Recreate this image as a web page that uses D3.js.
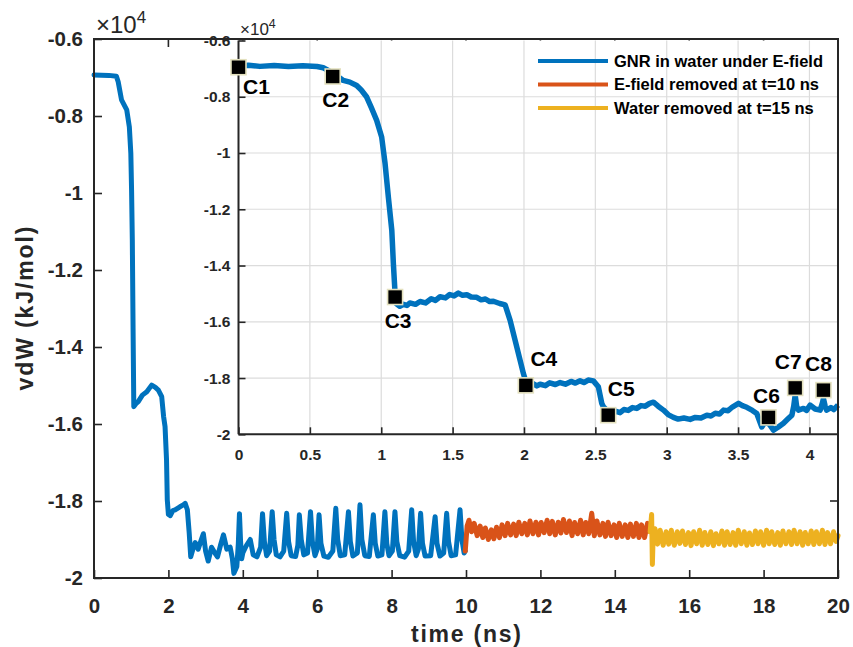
<!DOCTYPE html>
<html><head><meta charset="utf-8">
<script src="https://cdn.jsdelivr.net/npm/d3@7"></script>
<style>
html,body{margin:0;padding:0;background:#fff;}
svg text{font-family:"Liberation Sans",Arial,Helvetica,sans-serif;}
</style></head>
<body>
<svg id="chart" width="853" height="647"></svg>
<script>
// ---------------- DATA (time in ns, vdW in kJ/mol) ----------------
const mainXTicks = [0,2,4,6,8,10,12,14,16,18,20];
const mainYTicks = [-6000,-8000,-10000,-12000,-14000,-16000,-18000,-20000];
const insetXTicks = [0,0.5,1,1.5,2,2.5,3,3.5,4];
const insetYTicks = [-6000,-8000,-10000,-12000,-14000,-16000,-18000,-20000];

const seriesNames = ["GNR in water under E-field","E-field removed at t=10 ns","Water removed at t=15 ns"];

const blueMain = [
[0,-6935],[0.2,-6940],[0.4,-6945],[0.6,-6965],[0.65,-7110],[0.74,-7580],[0.88,-7840],[0.95,-8280],
[0.99,-8970],[1.01,-9920],[1.03,-11220],[1.05,-13500],[1.07,-15550],[1.12,-15480],[1.19,-15420],
[1.3,-15250],[1.42,-15160],[1.55,-14990],[1.65,-15050],[1.73,-15120],[1.82,-15290],[1.87,-15800],
[1.91,-16070],[1.95,-16940],[1.97,-17970],[2.0,-18350],[2.05,-18380],[2.12,-18250],[2.18,-18230],
[2.31,-18150],[2.4,-18100],[2.45,-18060],[2.51,-18230],[2.56,-18840],[2.6,-19450],[2.66,-19250],
[2.72,-19080],[2.8,-19250],[2.87,-19050],[2.94,-18850],[3.0,-19300],[3.07,-19560],[3.16,-19200],
[3.25,-19350],[3.32,-19450],[3.4,-19150],[3.48,-18880],[3.57,-19250],[3.66,-19200],[3.72,-19500],
[3.76,-19880],[3.84,-19700],[3.88,-19100],[3.91,-18330],[3.94,-19050],[3.97,-19500],
[4.0,-19350],[4.1,-19150],[4.2,-19000],[4.28,-19400],[4.38,-19450],[4.48,-19200],[4.53,-18330],
[4.58,-19050],[4.64,-19420],[4.72,-19300],[4.79,-18280],[4.84,-19000],[4.9,-19400],[5.0,-19450],
[5.1,-19300],[5.18,-18320],[5.23,-19050],[5.3,-19420],[5.42,-19440],[5.48,-19150],[5.52,-18360],
[5.57,-19000],[5.64,-19400],[5.74,-19350],[5.82,-18280],[5.87,-19050],[5.94,-19420],[6.0,-19250],
[6.05,-18360],[6.1,-19100],[6.18,-19430],[6.3,-19460],[6.42,-19300],[6.5,-18190],[6.55,-19000],
[6.62,-19420],[6.74,-19400],[6.84,-18280],[6.89,-19050],[6.96,-19430],[7.08,-19350],[7.15,-18100],
[7.2,-19000],[7.28,-19420],[7.4,-19440],[7.51,-18360],[7.56,-19100],[7.63,-19430],[7.74,-19400],
[7.82,-18280],[7.87,-19100],[7.93,-19420],[8.02,-19300],[8.09,-18280],[8.14,-19050],[8.22,-19420],
[8.35,-19460],[8.46,-19300],[8.54,-18230],[8.59,-19050],[8.66,-19420],[8.72,-19250],[8.78,-18320],
[8.83,-19100],[8.9,-19430],[9.05,-19420],[9.17,-18410],[9.22,-19100],[9.3,-19430],[9.4,-19350],
[9.48,-18320],[9.53,-19050],[9.6,-19420],[9.72,-19400],[9.84,-18230],[9.89,-19000],[9.95,-19350],
[9.98,-19300]
];

const orangeMain = [
[9.98,-19300],[10.03,-18650],[10.08,-18500],[10.15,-18800],[10.22,-18580],[10.3,-18900],[10.38,-18650],
[10.45,-18950],[10.52,-18700],[10.6,-19000],[10.68,-18750],[10.75,-18980],[10.82,-18680],[10.9,-18950],
[10.97,-18620],[11.05,-18900],[11.12,-18580],[11.2,-18880],[11.28,-18600],[11.35,-18900],[11.42,-18550],
[11.5,-18850],[11.58,-18580],[11.65,-18880],[11.72,-18520],[11.8,-18850],[11.88,-18550],[11.95,-18880],
[12.02,-18560],[12.1,-18820],[12.18,-18500],[12.25,-18850],[12.32,-18530],[12.4,-18880],[12.48,-18550],
[12.55,-18830],[12.62,-18480],[12.7,-18820],[12.78,-18520],[12.85,-18900],[12.92,-18560],[13.0,-18850],
[13.08,-18500],[13.15,-18880],[13.22,-18560],[13.3,-18850],[13.38,-18320],[13.45,-18900],[13.52,-18520],
[13.6,-18880],[13.68,-18580],[13.75,-18920],[13.82,-18550],[13.9,-18900],[13.98,-18620],[14.05,-18950],
[14.12,-18580],[14.2,-18920],[14.28,-18620],[14.35,-18950],[14.42,-18600],[14.5,-18920],[14.58,-18580],
[14.65,-18950],[14.72,-18620],[14.8,-18950],[14.88,-18580],[14.95,-18800]
];

const yellowMain = [
[14.95,-18800],[14.99,-18350],[15.01,-19650],[15.03,-18950],[15.08,-18720],[15.15,-19120],[15.22,-18760],
[15.3,-19150],[15.38,-18800],[15.45,-19120],[15.52,-18760],[15.6,-19150],[15.68,-18800],[15.75,-19100],
[15.82,-18780],[15.9,-19130],[15.98,-18820],[16.05,-19160],[16.12,-18800],[16.2,-19110],[16.28,-18760],
[16.35,-19150],[16.42,-18820],[16.5,-19130],[16.58,-18800],[16.65,-19160],[16.72,-18850],[16.8,-19110],
[16.88,-18780],[16.95,-19150],[17.02,-18800],[17.1,-19130],[17.18,-18820],[17.25,-19150],[17.32,-18760],
[17.4,-19110],[17.48,-18800],[17.55,-19150],[17.62,-18830],[17.7,-19130],[17.78,-18780],[17.85,-19110],
[17.92,-18800],[18.0,-19150],[18.08,-18760],[18.15,-19110],[18.22,-18800],[18.3,-19130],[18.38,-18820],
[18.45,-19150],[18.52,-18780],[18.6,-19110],[18.68,-18800],[18.75,-19130],[18.82,-18760],[18.9,-19110],
[18.98,-18800],[19.05,-19150],[19.12,-18820],[19.2,-19110],[19.28,-18780],[19.35,-19130],[19.42,-18800],
[19.5,-19110],[19.58,-18760],[19.65,-19130],[19.72,-18820],[19.8,-19110],[19.88,-18800],[19.95,-19050],
[20.0,-18900]
];

const blueInset = [
[0,-6900],[0.07,-6880],[0.15,-6920],[0.25,-6890],[0.35,-6925],[0.45,-6895],[0.55,-6925],[0.594,-6970],
[0.66,-7150],[0.734,-7420],[0.78,-7480],[0.828,-7600],[0.86,-7760],[0.898,-8010],[0.93,-8380],[0.968,-8840],
[1.003,-9430],[1.027,-10380],[1.05,-11570],[1.074,-12750],[1.085,-13930],[1.097,-15000],
[1.105,-15350],[1.13,-15450],[1.155,-15380],[1.18,-15420],[1.2,-15330],[1.24,-15380],[1.272,-15280],
[1.31,-15330],[1.35,-15180],[1.38,-15240],[1.412,-15110],[1.45,-15150],[1.48,-15030],[1.51,-15080],
[1.54,-14980],[1.57,-15060],[1.6,-15040],[1.63,-15120],[1.669,-15130],[1.7,-15220],[1.73,-15190],
[1.76,-15280],[1.786,-15270],[1.83,-15350],[1.868,-15400],[1.903,-15950],[1.938,-16660],[1.973,-17370],
[1.996,-17840],[2.02,-18250],[2.06,-18190],[2.09,-18280],[2.113,-18220],[2.15,-18270],[2.18,-18170],
[2.22,-18230],[2.253,-18160],[2.29,-18220],[2.33,-18120],[2.36,-18180],[2.393,-18100],[2.42,-18160],
[2.45,-18070],[2.486,-18100],[2.521,-18310],[2.545,-18900],[2.556,-19020],[2.6,-19250],[2.64,-19180],
[2.673,-19230],[2.7,-19120],[2.73,-19150],[2.76,-19050],[2.79,-19080],[2.82,-18980],[2.85,-19000],
[2.88,-18900],[2.907,-18860],[2.94,-19000],[2.977,-19140],[3.01,-19300],[3.047,-19400],[3.08,-19460],
[3.12,-19420],[3.164,-19470],[3.2,-19400],[3.24,-19420],[3.281,-19320],[3.31,-19350],[3.34,-19250],
[3.37,-19280],[3.398,-19140],[3.43,-19160],[3.46,-19030],[3.503,-18900],[3.53,-18980],[3.561,-19040],
[3.6,-19150],[3.631,-19260],[3.666,-19740],[3.69,-19550],[3.72,-19650],[3.748,-19850],[3.78,-19750],
[3.818,-19610],[3.85,-19450],[3.877,-19320],[3.89,-19000],[3.9,-18610],[3.91,-19000],[3.923,-19140],
[3.958,-19080],[3.98,-19150],[4.005,-18960],[4.04,-19100],[4.075,-19140],[4.09,-18900],[4.098,-18730],
[4.11,-19000],[4.12,-19140],[4.15,-19050],[4.17,-19120],[4.2,-18960]
];

const markerNames = ["C1","C2","C3","C4","C5","C6","C7","C8"];
const markerTimes = [0, 0.66, 1.097, 2.013, 2.59, 3.713, 3.90, 4.098];
const markerValues = [-6950, -7280, -15120, -18260, -19320, -19400, -18350, -18430];

// ---------------- LAYOUT / STYLE ----------------
const colors = ["#0072BD","#D95319","#EDB120"];
const axisColor = "#262626";
const labelOffsets = [[18,19],[3,23],[3,23],[18,-27],[13,-27],[-2,-22],[-7,-26],[-5,-27]];

const svg = d3.select("#chart");
const M = {l:94, r:838, t:39, b:578};
const I = {l:238.5, r:838, t:40.5, b:434.3};

const x = d3.scaleLinear().domain([0,20]).range([M.l, M.r]);
const y = d3.scaleLinear().domain([-20000,-6000]).range([M.b, M.t]);
const xi = d3.scaleLinear().domain([0,4.2]).range([I.l, I.r]);
const yi = d3.scaleLinear().domain([-20000,-6000]).range([I.b, I.t]);

const fmtY = d => String(+(d/1e4).toFixed(2));
const fmtX = d => String(d);

// ---- main curves ----
const lineMain = d3.line().x(d=>x(d[0])).y(d=>y(d[1]));
const gMain = svg.append("g");
[blueMain, orangeMain, yellowMain].forEach((s,i)=>{
  gMain.append("path").attr("d", lineMain(s)).attr("fill","none")
    .attr("stroke", colors[i]).attr("stroke-width", 5)
    .attr("stroke-linejoin","round").attr("stroke-linecap","round");
});

// ---- main axes ----
function styleAxis(g, fs){
  g.selectAll(".domain").remove();
  g.selectAll(".tick line").attr("stroke", axisColor).attr("stroke-width", 1.6);
  g.selectAll(".tick text").attr("fill", axisColor).attr("font-weight","bold").attr("font-size", fs);
}
const gx = svg.append("g").attr("transform",`translate(0,${M.b})`)
  .call(d3.axisBottom(x).tickValues(mainXTicks).tickFormat(fmtX).tickSizeInner(-8).tickSizeOuter(0).tickPadding(20));
styleAxis(gx, 20.5);
const gy = svg.append("g").attr("transform",`translate(${M.l},0)`)
  .call(d3.axisLeft(y).tickValues(mainYTicks).tickFormat(fmtY).tickSizeInner(-8).tickSizeOuter(0).tickPadding(11));
styleAxis(gy, 20.5);
svg.append("g").selectAll("line").data(mainYTicks).join("line")
  .attr("x1", M.r).attr("x2", M.r-8).attr("y1", d=>y(d)).attr("y2", d=>y(d))
  .attr("stroke", axisColor).attr("stroke-width",1.6);
svg.append("g").selectAll("line").data(mainXTicks).join("line")
  .attr("x1", d=>x(d)).attr("x2", d=>x(d)).attr("y1", M.t).attr("y2", M.t+8)
  .attr("stroke", axisColor).attr("stroke-width",1.6);
svg.append("rect").attr("x",M.l).attr("y",M.t).attr("width",M.r-M.l).attr("height",M.b-M.t)
  .attr("fill","none").attr("stroke",axisColor).attr("stroke-width",2);

// axis labels
svg.append("text").attr("x", (M.l+M.r)/2).attr("y", 642).attr("text-anchor","middle")
  .attr("font-size",23).attr("font-weight","bold").attr("fill",axisColor)
  .attr("textLength",110).attr("lengthAdjust","spacing").text("time (ns)");
svg.append("text").attr("transform",`translate(33,${(M.t+M.b)/2}) rotate(-90)`).attr("text-anchor","middle")
  .attr("font-size",23).attr("font-weight","bold").attr("fill",axisColor)
  .attr("textLength",164).attr("lengthAdjust","spacing").text("vdW (kJ/mol)");
const ex1 = svg.append("text").attr("x",96).attr("y",33).attr("font-size",24).attr("fill",axisColor);
ex1.append("tspan").text("×10");
ex1.append("tspan").attr("dy",-10).attr("font-size",17).text("4");

// ---------------- INSET ----------------
const gI = svg.append("g");
gI.append("rect").attr("x",I.l).attr("y",I.t).attr("width",I.r-I.l).attr("height",I.b-I.t).attr("fill","#fff");
gI.append("g").selectAll("line").data(insetXTicks.filter(d=>d>0)).join("line")
  .attr("x1",d=>xi(d)).attr("x2",d=>xi(d)).attr("y1",I.t).attr("y2",I.b)
  .attr("stroke","#dcdcdc").attr("stroke-width",1.2);
gI.append("g").selectAll("line").data(insetYTicks.filter(d=>d>-20000 && d<-6000)).join("line")
  .attr("x1",I.l).attr("x2",I.r).attr("y1",d=>yi(d)).attr("y2",d=>yi(d))
  .attr("stroke","#dcdcdc").attr("stroke-width",1.2);

// legend (transparent)
const legX = 538, legY0 = 61, legDY = 23.5;
seriesNames.forEach((n,i)=>{
  gI.append("line").attr("x1",legX).attr("x2",legX+70).attr("y1",legY0+i*legDY).attr("y2",legY0+i*legDY)
    .attr("stroke",colors[i]).attr("stroke-width",4);
  gI.append("text").attr("x",legX+76).attr("y",legY0+i*legDY).attr("dy","0.36em")
    .attr("font-size",16.5).attr("font-weight","bold").attr("fill","#000").text(n);
});

// inset curve
const lineInset = d3.line().x(d=>xi(d[0])).y(d=>yi(d[1]));
gI.append("path").attr("d", lineInset(blueInset)).attr("fill","none").attr("stroke",colors[0])
  .attr("stroke-width",5.5).attr("stroke-linejoin","round");

// inset axes
const gxi = gI.append("g").attr("transform",`translate(0,${I.b})`)
  .call(d3.axisBottom(xi).tickValues(insetXTicks).tickFormat(fmtX).tickSizeInner(-7).tickSizeOuter(0).tickPadding(15));
styleAxis(gxi, 15.5);
const gyi = gI.append("g").attr("transform",`translate(${I.l},0)`)
  .call(d3.axisLeft(yi).tickValues(insetYTicks).tickFormat(fmtY).tickSizeInner(-7).tickSizeOuter(0).tickPadding(8));
styleAxis(gyi, 15.5);
gI.append("line").attr("x1",I.l).attr("x2",I.r).attr("y1",I.b).attr("y2",I.b).attr("stroke",axisColor).attr("stroke-width",2);
gI.append("line").attr("x1",I.l).attr("x2",I.l).attr("y1",I.t).attr("y2",I.b).attr("stroke",axisColor).attr("stroke-width",2);
const ex2 = gI.append("text").attr("x",240).attr("y",35).attr("font-size",17).attr("fill",axisColor);
ex2.append("tspan").text("×10");
ex2.append("tspan").attr("dy",-7).attr("font-size",12.5).text("4");

// markers
const mk = markerNames.map((n,i)=>({n, t:markerTimes[i], v:markerValues[i], o:labelOffsets[i]}));
gI.append("g").selectAll("rect").data(mk).join("rect")
  .attr("x",d=>xi(d.t)-7.5).attr("y",d=>yi(d.v)-7.5).attr("width",15).attr("height",15)
  .attr("fill","#000").attr("stroke","#E3E0BE").attr("stroke-width",1.6);
gI.append("g").selectAll("text").data(mk).join("text")
  .attr("x",d=>xi(d.t)+d.o[0]).attr("y",d=>yi(d.v)+d.o[1]).attr("dy","0.36em").attr("text-anchor","middle")
  .attr("font-size",21).attr("font-weight","bold").attr("fill","#000").text(d=>d.n);

// main border redrawn over inset
svg.append("line").attr("x1",M.l).attr("x2",M.r).attr("y1",M.t).attr("y2",M.t).attr("stroke",axisColor).attr("stroke-width",2);
svg.append("line").attr("x1",M.r).attr("x2",M.r).attr("y1",M.t).attr("y2",M.b).attr("stroke",axisColor).attr("stroke-width",2);
</script>
</body></html>
